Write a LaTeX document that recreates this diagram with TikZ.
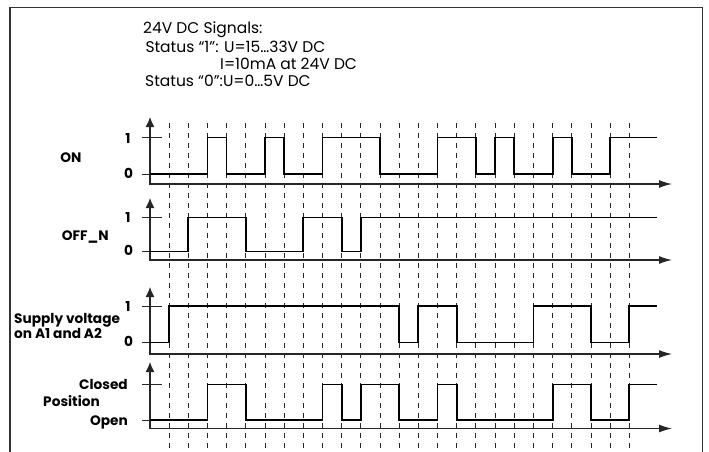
\documentclass[tikz,border=0pt]{standalone}
\usepackage{fontspec}
\setmainfont{Poppins}
\usetikzlibrary{arrows.meta, calc}

\begin{document}
\begin{tikzpicture}[
    x=1pt, y=-1pt,
    % --- BASE STYLES ---
    frameline/.style={draw=black!80, line width=1.3pt},
    gridline/.style={draw=black!85, line width=0.8pt, dash pattern=on 5pt off 5pt},
    axisline/.style={draw=black!85, line width=1.2pt, arrows={Latex[length=10pt,width=9pt]-Latex[length=13pt,width=8pt]}},
    tickline/.style={draw=black!85, line width=1pt},
    signal/.style={draw=black, line width=1.8pt, line join=miter},
    % --- TEXT STYLES ---
    lvl/.style={font=\bfseries\fontsize{13.7}{15}\selectfont, inner sep=0pt, anchor=base},
    siglabel/.style={font=\bfseries\fontsize{13.7}{15}\selectfont, inner sep=0pt, anchor=base},
    note/.style={font=\fontsize{15.5}{17}\selectfont, inner sep=0pt, anchor=base west}
]
\useasboundingbox (0,0) rectangle (709,452);

% ==========================================
% FRAME AND HEADER NOTES
% ==========================================
\draw[frameline] (10,452) -- (10,7.5) -- (702.5,7.5) -- (702.5,452);

\node[note] (head) at (143,33.3) {24V DC Signals:};
\node[note] (stat1) at (145.3,52.7) {Status “1”: U=15…33V DC};
\node[note] (stat1b) at (220,69.3) {I=10mA at 24V DC};
\node[note] (stat0) at (145,86) {Status “0”:U=0…5V DC};

% ==========================================
% TIME GRID (dashed)
% ==========================================
\foreach \i in {0,...,24} {
    \draw[gridline] ({169+19.18*\i},123) -- ({169+19.18*\i},450);
}

% ==========================================
% AXES: name / arrow top / level 1 / level 0 / time axis
% ==========================================
\foreach \name/\top/\hi/\lo/\ax in {on/117/137.5/174/184, offn/198/217.5/251.5/260, supply/287/306/342.5/354, pos/362/384.5/420/428.5} {
    \coordinate (\name_o) at (150,\ax);
    \draw[axisline] (150,\top) -- (\name_o) -- (672,\ax);
    \draw[tickline] (141.5,\hi) -- (161.5,\hi);
    \draw[tickline] (141.5,\lo) -- (161.5,\lo);
}

% ==========================================
% SIGNALS
% ==========================================
% ON
\draw[signal] (150,174) -| (207.4,137.5) -| (226.5,174) -| (264.9,137.5) -| (284.1,174)
    -| (322.4,137.5) -| (380,174) -| (437.5,137.5) -| (475.9,174) -| (495.1,137.5)
    -| (514.2,174) -| (552.6,137.5) -| (571.8,174) -| (610.1,137.5) -- (657,137.5);
% OFF_N
\draw[signal] (150,251.5) -| (188.2,217.5) -| (245.7,251.5) -| (303.3,217.5)
    -| (341.6,251.5) -| (360.8,217.5) -- (657,217.5);
% Supply voltage
\draw[signal] (150,342.5) -| (169,306) -| (399.2,342.5) -| (418.3,306) -| (456.7,342.5)
    -| (533.4,306) -| (591,342.5) -| (629.3,306) -- (657,306);
% Position
\draw[signal] (150,420) -| (207.4,384.5) -| (245.7,420) -| (322.4,384.5) -| (341.6,420)
    -| (360.8,384.5) -| (399.2,420) -| (437.5,384.5) -| (456.7,420) -| (552.6,384.5)
    -| (591,420) -| (629.3,384.5) -- (657,384.5);

% ==========================================
% LABELS
% ==========================================
\node[lvl] (on_1) at (128,143.8) {1};
\node[lvl] (on_0) at (128.5,178.3) {0};
\node[lvl] (offn_1) at (128,222.7) {1};
\node[lvl] (offn_0) at (128.5,255.5) {0};
\node[lvl] (supply_1) at (128,311.7) {1};
\node[lvl] (supply_0) at (128.5,346.5) {0};
\node[lvl, anchor=base east] (pos_closed) at (128,389.5) {Closed};
\node[lvl, anchor=base east] (pos_open) at (128,425) {Open};

\node[siglabel] (on_lbl) at (71,162) {ON};
\node[siglabel] (offn_lbl) at (85.3,240.8) {OFF\_N};
\node[siglabel, anchor=base west] (supply_lbl) at (14,323.3) {Supply voltage};
\node[siglabel, anchor=base west] (supply_lbl2) at (14,338.3) {on A1 and A2};
\node[siglabel] (pos_lbl) at (71.5,406.5) {Position};

\end{tikzpicture}
\end{document}
